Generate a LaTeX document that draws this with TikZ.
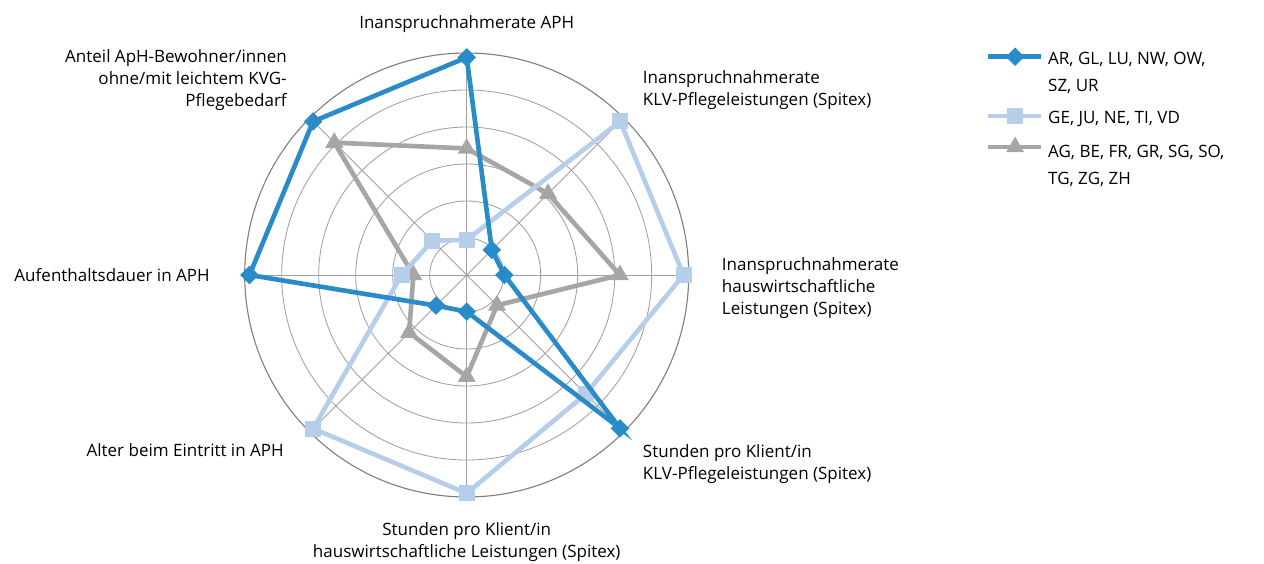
\documentclass[tikz,border=0pt]{standalone}
\usepackage{fontspec}
\setmainfont{Open Sans}
\usetikzlibrary{shapes.geometric}
\definecolor{seriesDark}{RGB}{41,140,201}
\definecolor{seriesLight}{RGB}{183,206,235}
\definecolor{seriesGray}{RGB}{166,166,166}
\definecolor{gridGray}{RGB}{160,160,160}

\begin{document}
\begin{tikzpicture}[
  font=\fontsize{12.1}{15.6}\selectfont,
  ring/.style={draw=gridGray, line width=0.6pt},
  axislabel/.style={inner sep=0pt},
  legendlabel/.style={inner sep=0pt, anchor=base west, align=left, font=\fontsize{12.1}{19}\selectfont},
  darkline/.style={draw=seriesDark, line width=3.3pt},
  lightline/.style={draw=seriesLight, line width=3.3pt},
  grayline/.style={draw=seriesGray, line width=3.3pt},
  diamondmark/.style={diamond, fill=seriesDark, inner sep=0pt, minimum size=0.47cm},
  squaremark/.style={rectangle, fill=seriesLight, inner sep=0pt, minimum size=0.4cm},
  trimark/.style={regular polygon, regular polygon sides=3, fill=seriesGray, inner sep=0pt, minimum size=0.52cm}
]
\useasboundingbox (-11.6675,-7.2) rectangle (19.9325,6.875);
\def\rs{0.925}

% grid
\foreach \r in {1,...,5}
  \draw[ring] (0,0) circle ({\r*\rs});
\draw[ring, draw=gray, line width=0.8pt] (0,0) circle ({6*\rs});
\foreach \a in {0,45,...,315}
  \draw[ring] (0,0) -- (\a:{6*\rs});

% axis labels (base = last line)
\node[axislabel, anchor=base] (lblAPH) at (0,6.17) {Inanspruchnahmerate APH};
\node[axislabel, anchor=base west, align=left] (lblKLV) at (4.4,4.25)
  {Inanspruchnahmerate\\KLV-Pflegeleistungen (Spitex)};
\node[axislabel, anchor=base west, align=left] (lblHW) at (6.375,-0.975)
  {Inanspruchnahmerate\\hauswirtschaftliche\\Leistungen (Spitex)};
\node[axislabel, anchor=base west, align=left] (lblStdKLV) at (4.4,-5.1)
  {Stunden pro Klient/in\\KLV-Pflegeleistungen (Spitex)};
\node[axislabel, anchor=base, align=center] (lblStdHW) at (0,-7.05)
  {Stunden pro Klient/in\\hauswirtschaftliche Leistungen (Spitex)};
\node[axislabel, anchor=base east] (lblAlter) at (-4.5675,-4.525) {Alter beim Eintritt in APH};
\node[axislabel, anchor=base east] (lblDauer) at (-6.4175,-0.15) {Aufenthaltsdauer in APH};
\node[axislabel, anchor=base east, align=right] (lblAnteil) at (-4.4925,4.225)
  {Anteil ApH-Bewohner/innen\\ohne/mit leichtem KVG-\\Pflegebedarf};

% series: AG, BE, FR, ...
\foreach \a/\v [count=\i] in {90/3.42,45/3.11,0/4.14,-45/1.16,-90/2.75,-135/2.2,180/1.44,135/5.06}
  \coordinate (gr\i) at (\a:{\v*\rs});
\draw[grayline] (gr1) -- (gr2) -- (gr3) -- (gr4) -- (gr5) -- (gr6) -- (gr7) -- (gr8) -- cycle;
\foreach \i in {1,...,8}
  \node[trimark] (grm\i) at (gr\i) {};

% series: GE, JU, ...
\foreach \a/\v [count=\i] in {90/0.95,45/5.87,0/5.86,-45/4.55,-90/5.9,-135/5.87,180/1.76,135/1.31}
  \coordinate (lt\i) at (\a:{\v*\rs});
\draw[lightline] (lt1) -- (lt2) -- (lt3) -- (lt4) -- (lt5) -- (lt6) -- (lt7) -- (lt8) -- cycle;
\foreach \i in {1,...,8}
  \node[squaremark] (ltm\i) at (lt\i) {};

% series: AR, GL, ...
\foreach \a/\v [count=\i] in {90/5.88,45/0.96,0/1.02,-45/5.86,-90/0.99,-135/1.17,180/5.87,135/5.87}
  \coordinate (dk\i) at (\a:{\v*\rs});
\draw[darkline] (dk1) -- (dk2) -- (dk3) -- (dk4) -- (dk5) -- (dk6) -- (dk7) -- (dk8) -- cycle;
\foreach \i in {1,...,8}
  \node[diamondmark] (dkm\i) at (dk\i) {};

% legend
\coordinate (lgDarkA) at (13.03,5.4575);
\coordinate (lgDarkB) at (14.36,5.4575);
\draw[darkline] (lgDarkA) -- (lgDarkB);
\node[diamondmark] (lgDarkMark) at (13.71,5.4575) {};
\node[legendlabel] (lgDarkText) at (14.53,4.5825) {AR, GL, LU, NW, OW,\\SZ, UR};

\coordinate (lgLightA) at (13.03,3.975);
\coordinate (lgLightB) at (14.36,3.975);
\draw[lightline] (lgLightA) -- (lgLightB);
\node[squaremark] (lgLightMark) at (13.71,3.975) {};
\node[legendlabel] (lgLightText) at (14.53,3.79) {GE, JU, NE, TI, VD};

\coordinate (lgGrayA) at (13.03,3.2);
\coordinate (lgGrayB) at (14.36,3.2);
\draw[grayline] (lgGrayA) -- (lgGrayB);
\node[trimark] (lgGrayMark) at (13.71,3.2) {};
\node[legendlabel] (lgGrayText) at (14.53,2.275) {AG, BE, FR, GR, SG, SO,\\TG, ZG, ZH};
\end{tikzpicture}
\end{document}
